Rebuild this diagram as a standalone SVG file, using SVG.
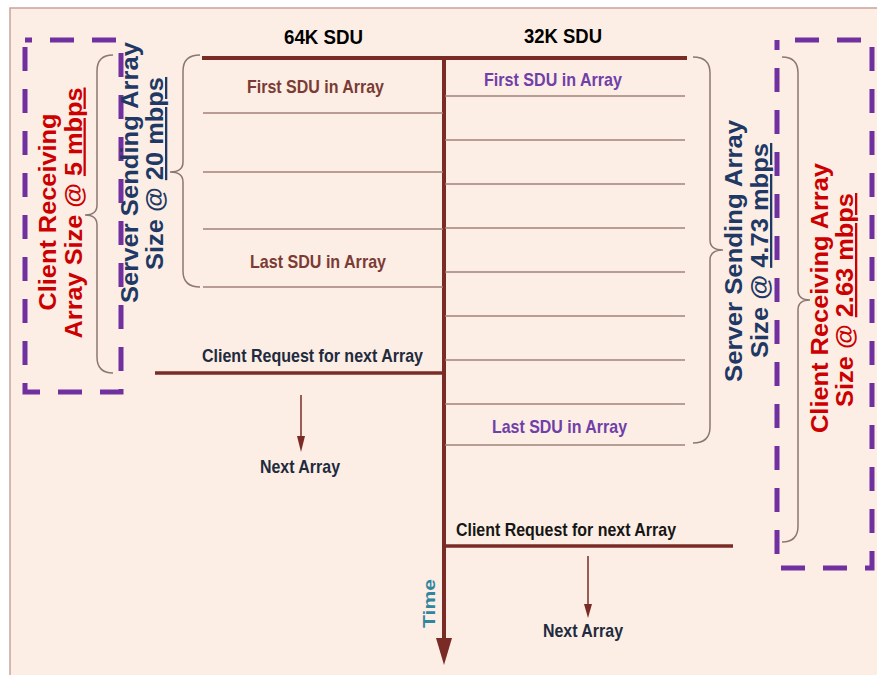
<svg xmlns="http://www.w3.org/2000/svg" width="877" height="675" viewBox="0 0 877 675">
<defs>
<style>
text{font-family:"Liberation Sans",Arial,sans-serif;font-weight:bold}
.thick{stroke:#7B2B26;stroke-width:4;fill:none}
.req{stroke:#7B2B26;stroke-width:3.5;fill:none}
.thin{stroke:#A3817A;stroke-width:1.6;fill:none}
.brace{stroke:#8C7773;stroke-width:1.5;fill:none}
.dash{stroke:#7030A0;stroke-width:5;fill:none;stroke-dasharray:24 18}
.small{stroke:#7B2B26;stroke-width:1.5;fill:none}
.lbl{font-size:19px}
.rot{font-size:23px}
.red{fill:#CC0000}
.navy{fill:#1F3864}
.dark{fill:#222A3E}
.brown{fill:#7B3B34}
.purple{fill:#7040A8}
</style>
</defs>
<rect x="0" y="0" width="877" height="675" fill="#FFFFFF"/>
<rect x="10" y="8" width="880" height="680" fill="#FCEEE4" stroke="#C9A29C" stroke-width="1.5"/>

<g id="connectors">
  <line class="thick" x1="202" y1="58" x2="687" y2="58" stroke-width="4.5"/>
  <line class="thick" x1="444" y1="58" x2="444" y2="642"/>
  <polygon points="436,638 452,638 444,665" fill="#7B2B26"/>
  <line class="thin" x1="203" y1="113" x2="443" y2="113"/>
  <line class="thin" x1="203" y1="172" x2="443" y2="172"/>
  <line class="thin" x1="203" y1="229" x2="443" y2="229"/>
  <line class="thin" x1="203" y1="287" x2="443" y2="287"/>
  <line class="thin" x1="445" y1="96" x2="685" y2="96"/>
  <line class="thin" x1="445" y1="140" x2="685" y2="140"/>
  <line class="thin" x1="445" y1="184" x2="685" y2="184"/>
  <line class="thin" x1="445" y1="228" x2="685" y2="228"/>
  <line class="thin" x1="445" y1="272" x2="685" y2="272"/>
  <line class="thin" x1="445" y1="316" x2="685" y2="316"/>
  <line class="thin" x1="445" y1="360" x2="685" y2="360"/>
  <line class="thin" x1="445" y1="404" x2="685" y2="404"/>
  <line class="thin" x1="445" y1="445" x2="685" y2="445"/>
  <line class="req" x1="155" y1="373" x2="444" y2="373"/>
  <line class="req" x1="444" y1="546" x2="733" y2="546"/>
  <line class="small" x1="301" y1="395" x2="301" y2="440"/>
  <polygon points="297,436 305,436 301,452" fill="#7B2B26"/>
  <line class="small" x1="588" y1="556" x2="588" y2="608"/>
  <polygon points="584,604 592,604 588,618" fill="#7B2B26"/>
</g>

<g id="header-64k"><text x="323.5" y="44" text-anchor="middle" font-size="20" textLength="79" lengthAdjust="spacingAndGlyphs" fill="#000">64K SDU</text></g>
<g id="header-32k"><text x="563" y="43" text-anchor="middle" font-size="20" textLength="78" lengthAdjust="spacingAndGlyphs" fill="#000">32K SDU</text></g>

<g id="left-first"><text class="lbl brown" x="315.5" y="93" text-anchor="middle" textLength="137" lengthAdjust="spacingAndGlyphs">First SDU in Array</text></g>
<g id="left-last"><text class="lbl brown" x="318" y="268" text-anchor="middle" textLength="136" lengthAdjust="spacingAndGlyphs">Last SDU in Array</text></g>
<g id="right-first"><text class="lbl purple" x="553" y="86" text-anchor="middle" textLength="138" lengthAdjust="spacingAndGlyphs">First SDU in Array</text></g>
<g id="right-last"><text class="lbl purple" x="559.5" y="433" text-anchor="middle" textLength="135" lengthAdjust="spacingAndGlyphs">Last SDU in Array</text></g>

<g id="left-request"><text class="lbl dark" x="312.5" y="362" text-anchor="middle" textLength="221" lengthAdjust="spacingAndGlyphs">Client Request for next Array</text></g>
<g id="right-request"><text class="lbl" fill="#161616" x="566" y="536" text-anchor="middle" textLength="220" lengthAdjust="spacingAndGlyphs">Client Request for next Array</text></g>
<g id="left-next"><text class="lbl dark" x="300" y="473" text-anchor="middle" textLength="80" lengthAdjust="spacingAndGlyphs">Next Array</text></g>
<g id="right-next"><text class="lbl dark" x="583" y="637" text-anchor="middle" textLength="80" lengthAdjust="spacingAndGlyphs">Next Array</text></g>

<g id="time-label"><text transform="translate(435,603.5) rotate(-90)" text-anchor="middle" font-size="17" textLength="49" lengthAdjust="spacingAndGlyphs" fill="#31859C">Time</text></g>

<g id="left-client-box">
  <rect class="dash" x="25" y="40" width="96" height="352" stroke-dashoffset="17"/>
  <path class="brace" d="M113,55 Q97,55 97,71 L97,205 Q97,215 85,215 Q97,215 97,225 L97,357 Q97,373 113,373"/>
  <text class="rot red" transform="translate(56,212) rotate(-90)" text-anchor="middle" textLength="197" lengthAdjust="spacingAndGlyphs">Client Receiving</text>
  <text class="rot red" transform="translate(81.5,213) rotate(-90)" text-anchor="middle" textLength="251" lengthAdjust="spacingAndGlyphs">Array Size @ <tspan text-decoration="underline">5 mbps</tspan></text>
</g>

<g id="left-server">
  <path class="brace" d="M200,55 Q183,55 183,71 L183,162 Q183,172 170,172 Q183,172 183,182 L183,271 Q183,287 200,287"/>
  <text class="rot navy" transform="translate(138,172.5) rotate(-90)" text-anchor="middle" textLength="261" lengthAdjust="spacingAndGlyphs">Server Sending Array</text>
  <text class="rot navy" transform="translate(163,173.5) rotate(-90)" text-anchor="middle" textLength="193" lengthAdjust="spacingAndGlyphs">Size @ <tspan text-decoration="underline">20 mbps</tspan></text>
</g>

<g id="right-server">
  <path class="brace" d="M693,57 Q710,57 710,73 L710,240 Q710,250 723,250 Q710,250 710,260 L710,427 Q710,443 693,443"/>
  <text class="rot navy" transform="translate(742,251) rotate(-90)" text-anchor="middle" textLength="262" lengthAdjust="spacingAndGlyphs">Server Sending Array</text>
  <text class="rot navy" transform="translate(768,250.5) rotate(-90)" text-anchor="middle" textLength="215" lengthAdjust="spacingAndGlyphs">Size @ <tspan text-decoration="underline">4.73 mbps</tspan></text>
</g>

<g id="right-client-box">
  <rect class="dash" x="777" y="40" width="95" height="528" stroke-dashoffset="24"/>
  <path class="brace" d="M782,57 Q798,57 798,73 L798,290 Q798,300 810,300 Q798,300 798,310 L798,526 Q798,542 782,542"/>
  <text class="rot red" transform="translate(828,298) rotate(-90)" text-anchor="middle" textLength="270" lengthAdjust="spacingAndGlyphs">Client Receiving Array</text>
  <text class="rot red" transform="translate(853,300) rotate(-90)" text-anchor="middle" textLength="214" lengthAdjust="spacingAndGlyphs">Size @ <tspan text-decoration="underline">2.63 mbps</tspan></text>
</g>
</svg>
